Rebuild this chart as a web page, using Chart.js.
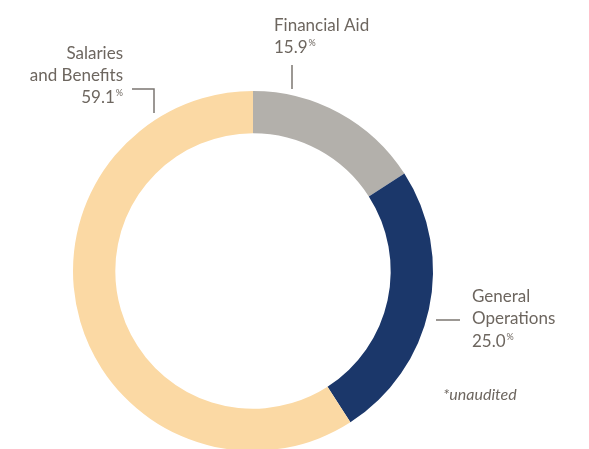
<!DOCTYPE html>
<html>
<head>
<meta charset="utf-8">
<script src="https://cdn.jsdelivr.net/npm/chart.js@4/dist/chart.umd.min.js"></script>
<style>
  html, body { margin: 0; padding: 0; background: #ffffff; overflow: hidden; }
  #wrap { position: relative; width: 589px; height: 461px; }
</style>
</head>
<body>
<div id="wrap"><canvas id="c" width="589" height="461"></canvas></div>
<script>
const categories = ["Financial Aid", "General Operations", "Salaries and Benefits"];
const values = [15.9, 25.0, 59.1];
const colors = ["#b3b0ab", "#1b376a", "#fbd9a4"];
const labelLines = [["Financial Aid"], ["General", "Operations"], ["Salaries", "and Benefits"]];
const footnote = "*unaudited";

const textColor = "#6d665f";
const lineColor = "#7b7671";
const FONT = "Lato, 'Open Sans', sans-serif";

const labelPlugin = {
  id: "labels",
  afterDraw(chart) {
    const ctx = chart.ctx;
    const arc = chart.getDatasetMeta(0).data[0];
    const cx = arc.x, cy = arc.y, R = arc.outerRadius;
    ctx.save();
    ctx.fillStyle = textColor;
    ctx.strokeStyle = lineColor;
    ctx.lineWidth = 1.5;
    ctx.textBaseline = "alphabetic";

    function pctText(x, y, val, align) {
      const main = val.toFixed(1);
      ctx.font = "17px " + FONT;
      const w = ctx.measureText(main).width;
      ctx.font = "9px " + FONT;
      const pw = ctx.measureText("%").width;
      let x0 = align === "right" ? x - w - pw - 1 : x;
      ctx.textAlign = "left";
      ctx.font = "17px " + FONT;
      ctx.fillText(main, x0, y);
      ctx.font = "9px " + FONT;
      ctx.fillText("%", x0 + w + 1, y - 7);
    }
    function lines(x, y0, arr, align) {
      ctx.font = "17px " + FONT;
      ctx.textAlign = align;
      arr.forEach((t, i) => ctx.fillText(t, x, y0 + i * 22));
    }
    // Financial Aid (top)
    lines(cx + 21, cy - 240, labelLines[0], "left");
    pctText(cx + 21, cy - 218, values[0], "left");
    ctx.beginPath();
    ctx.moveTo(cx + 39, cy - 206);
    ctx.lineTo(cx + 39, cy - R - 2);
    ctx.stroke();

    // General Operations (right)
    lines(cx + 219, cy + 31, labelLines[1], "left");
    pctText(cx + 219, cy + 76, values[1], "left");
    ctx.beginPath();
    ctx.moveTo(cx + 183, cy + 49);
    ctx.lineTo(cx + 207, cy + 49);
    ctx.stroke();

    // Salaries and Benefits (upper left)
    lines(cx - 130, cy - 212, labelLines[2], "right");
    pctText(cx - 130, cy - 168, values[2], "right");
    ctx.beginPath();
    ctx.moveTo(cx - 121, cy - 182);
    ctx.lineTo(cx - 99, cy - 182);
    ctx.lineTo(cx - 99, cy - 158);
    ctx.stroke();

    // footnote
    ctx.font = "italic 16px " + FONT;
    ctx.textAlign = "left";
    ctx.fillText(footnote, cx + 190, cy + 129);
    ctx.restore();
  }
};

new Chart(document.getElementById("c"), {
  type: "doughnut",
  data: {
    labels: categories,
    datasets: [{
      data: values,
      backgroundColor: colors,
      borderWidth: 0,
      hoverOffset: 0
    }]
  },
  options: {
    responsive: false,
    animation: false,
    cutout: "76.5%",
    rotation: 0,
    layout: { padding: { left: 73, right: 156, top: 91, bottom: 10 } },
    plugins: { legend: { display: false }, tooltip: { enabled: false } }
  },
  plugins: [labelPlugin]
});
</script>
</body>
</html>
